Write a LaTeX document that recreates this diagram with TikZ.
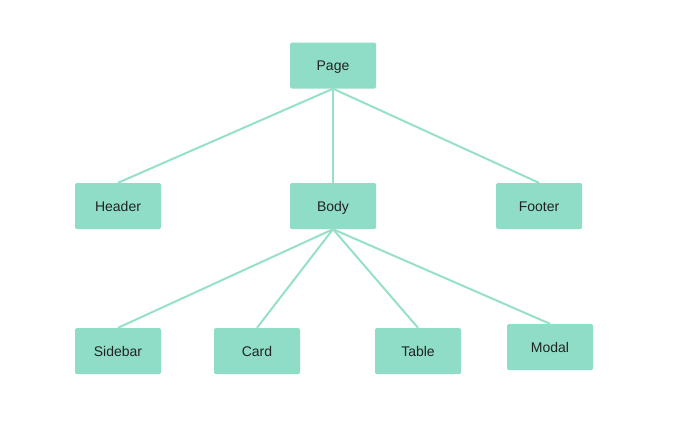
\documentclass[tikz,border=0pt]{standalone}
\usepackage{fontspec}
\setmainfont{Liberation Sans}
\definecolor{boxfill}{HTML}{8FDDC6}
\definecolor{linec}{HTML}{96E0CA}
\definecolor{txt}{HTML}{222222}
\begin{document}
\begin{tikzpicture}[x=1pt,y=-1pt,
  box/.style={fill=boxfill,draw=none,rounded corners=1.5pt,minimum width=86pt,minimum height=46pt,inner sep=0pt,text=txt,font=\fontsize{14}{16}\selectfont,text height=10.5pt,text depth=0pt},
  conn/.style={draw=linec,line width=2pt}]
\useasboundingbox (0,0) rectangle (674,429);
\node[box] (page) at (333,65.5) {Page};
\node[box] (header) at (118,206) {Header};
\node[box] (body) at (333,206) {Body};
\node[box] (footer) at (539,206) {Footer};
\node[box] (sidebar) at (118,351) {Sidebar};
\node[box] (card) at (257,351) {Card};
\node[box] (table) at (418,351) {Table};
\node[box] (modal) at (550,347) {Modal};
\draw[conn] (page.south) -- (header.north);
\draw[conn] (page.south) -- (body.north);
\draw[conn] (page.south) -- (footer.north);
\draw[conn] (body.south) -- (sidebar.north);
\draw[conn] (body.south) -- (card.north);
\draw[conn] (body.south) -- (table.north);
\draw[conn] (body.south) -- (modal.north);
\end{tikzpicture}
\end{document}
